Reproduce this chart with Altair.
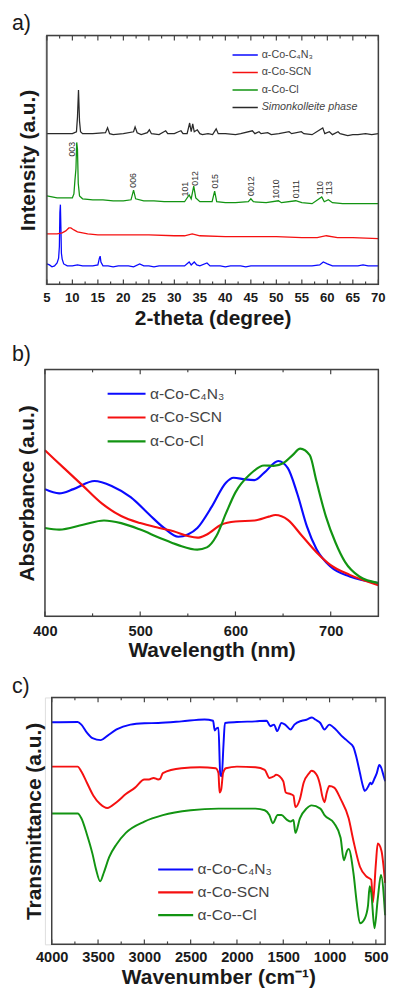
import altair as alt
import pandas as pd

FONT = "Liberation Sans"
TXT = "#1a1a1a"
FRAME = "#404040"

# ---------------- panel a) XRD ----------------
xrd_names = ["α-Co-C₄N₃", "α-Co-SCN", "α-Co-Cl", "Simonkolleite phase"]
xrd_colors = ["#0a0aff", "#f51010", "#129412", "#2a2a2a"]

xrd_blue_x = [5.0, 5.5, 6.0, 6.5, 7.0, 7.3, 7.45, 7.55, 7.65, 7.75, 7.85, 8.0, 8.3, 9, 10, 11, 12, 13, 14, 15.0,
              15.3, 15.45, 15.6, 16, 17, 18, 19, 20, 21, 22, 23.2, 24, 25, 26, 27, 28, 29, 30, 31, 32,
              32.9, 33.3, 33.9, 34.4, 35, 36.4, 37, 38, 39, 40, 41, 42, 43, 44, 45, 46, 47, 48, 49, 50,
              51, 52, 53, 54, 55, 56, 57, 58.5, 59.2, 60, 61, 62, 63, 64, 65, 66, 67, 68, 69, 70]
xrd_blue_y = [21, 20, 18, 19, 22, 27, 39, 74, 82, 59, 32, 26, 21, 19, 19, 20, 19, 19, 19, 20,
              27, 29, 23, 19, 19, 18, 19, 19, 19, 18, 21, 19, 19, 18, 19, 19, 19, 19, 19, 19,
              23, 20, 23, 20, 19, 22, 19, 19, 19, 18, 19, 19, 19, 18, 19, 19, 19, 19, 19, 19,
              19, 19, 19, 19, 19, 19, 19, 20, 23, 21, 19, 19, 19, 19, 19, 19, 20, 19, 19, 19]

xrd_red_x = [5, 6, 7, 8, 8.7, 9.3, 9.7, 10.3, 11, 12, 13, 15, 20, 25, 30, 32, 33.5, 35, 40, 45,
             50, 55, 58, 59.8, 62, 65, 70]
xrd_red_y = [52, 52, 52, 53, 55, 58, 58, 56, 54, 53, 52, 51, 51, 51, 50, 50, 52, 50, 49, 49,
             49, 48, 48, 50, 48, 48, 47]

xrd_green_x = [5, 6, 7, 8, 9, 10, 10.3, 10.5, 10.7, 10.85, 11.0, 11.15, 11.4, 12, 14, 16, 18, 20, 21.5, 22.0,
               22.4, 24, 26, 28, 30, 32, 32.9, 33.3, 33.8, 34.2, 35, 37.4, 37.9, 38.3, 40, 42, 44.5, 45, 45.5, 48,
               50.4, 51, 53.8, 55, 57, 58.9, 59.4, 60.2, 61, 63, 65, 67, 70]
xrd_green_y = [91, 90, 89, 89, 89, 89, 93, 107, 119, 146, 139, 104, 91, 88, 87, 87, 86, 86, 87, 97,
               88, 86, 86, 85, 85, 85, 92, 88, 101, 89, 85, 85, 96, 85, 84, 84, 85, 88, 85, 84,
               86, 84, 86, 84, 83, 90, 85, 87, 84, 83, 83, 83, 83]

xrd_black_x = [5, 8, 10, 10.8, 11.0, 11.2, 11.4, 11.6, 12, 14, 16.5, 16.9, 17.3, 18, 20, 22.0, 22.3, 22.7, 23.5, 24.7,
               25.1, 25.5, 27, 28.3, 28.7, 30, 30.8, 31.3, 31.7, 32.5, 33.0, 33.3, 33.6, 33.9, 34.5, 35.0, 35.5, 36.6,
               37.5, 38.2, 38.6, 40, 42, 43, 45.3, 45.8, 46.6, 47, 48.3, 49, 50.5, 52.5, 53, 54.9, 55.4, 57, 59.1,
               59.5, 60.4, 61, 62.1, 62.5, 64, 65, 66, 67.5, 68.7, 70]
xrd_black_y = [155, 155, 155, 157, 172, 200, 168, 157, 155, 155, 156, 161, 155, 154, 155, 157, 162, 156, 154, 156,
               159, 155, 154, 158, 155, 155, 157, 158, 155, 155, 166, 157, 165, 157, 159, 155, 154, 155,
               154, 160, 155, 155, 154, 155, 158, 155, 157, 155, 156, 154, 155, 157, 155, 157, 155, 154, 161,
               155, 157, 154, 157, 155, 153, 154, 154, 155, 154, 155]

hkl_text = ["003", "006", "101", "012", "015", "0012", "1010", "0111", "110", "113"]
hkl_theta = [10.0, 22.0, 32.1, 34.1, 37.9, 45.1, 50.0, 53.8, 58.6, 60.4]
hkl_y = [139, 107, 98, 109, 106, 101, 98, 98, 99, 99]

xrd_major = [5, 10, 15, 20, 25, 30, 35, 40, 45, 50, 55, 60, 65, 70]
xrd_minor = [7.5, 12.5, 17.5, 22.5, 27.5, 32.5, 37.5, 42.5, 47.5, 52.5, 57.5, 62.5, 67.5]

# ---------------- panel b) UV-vis ----------------
uv_names = ["α-Co-C₄N₃", "α-Co-SCN", "α-Co-Cl"]
uv_colors = ["#0a0aff", "#f51010", "#129412"]

uv_blue_x = [400, 415, 430, 452, 470, 490, 510, 525, 540, 550, 560, 575, 590, 598, 610, 620, 630, 645, 655, 665,
             675, 685, 700, 720, 750]
uv_blue_y = [393, 380, 393, 418, 403, 368, 313, 273, 246, 253, 273, 338, 413, 428, 423, 421, 443, 480, 458, 378,
             278, 208, 153, 123, 103]
uv_green_x = [400, 415, 440, 462, 480, 500, 520, 540, 560, 570, 580, 590, 600, 615, 630, 640, 650, 660, 668, 678,
              685, 695, 705, 715, 730, 750]
uv_green_y = [273, 268, 283, 296, 288, 268, 243, 220, 206, 213, 248, 318, 383, 438, 466, 465, 473, 498, 518, 498,
              418, 308, 228, 168, 123, 103]
uv_red_x = [400, 420, 440, 460, 480, 500, 520, 535, 550, 560, 570, 585, 600, 620, 635, 642, 655, 670, 685, 700,
            720, 750]
uv_red_y = [513, 458, 403, 348, 310, 288, 273, 263, 248, 243, 253, 283, 293, 296, 308, 313, 298, 248, 198, 158,
            128, 96]

uv_major = [400, 500, 600, 700]
uv_minor = [450, 550, 650]

# ---------------- panel c) FTIR ----------------
ir_names = ["α-Co-C₄N₃", "α-Co-SCN", "α-Co--Cl"]
ir_colors = ["#0a0aff", "#f51010", "#129412"]

ir_blue_x = [4000, 3720, 3680, 3620, 3560, 3470, 3400, 3300, 3150, 3000, 2850, 2600, 2350, 2258, 2240, 2223, 2200,
             2180, 2165, 2145, 2130, 2000, 1800, 1680, 1640, 1600, 1565, 1520, 1480, 1420, 1380, 1300, 1250, 1190,
             1150, 1100, 1055, 1003, 960, 916, 870, 829, 790, 742, 707, 672, 640, 620, 600, 580, 560, 545, 520,
             490, 463, 440, 420, 400]
ir_blue_y = [687, 688, 680, 655, 638, 632, 645, 665, 680, 684, 685, 690, 696, 692, 662, 668, 670,
             525, 520, 620, 685, 688, 690, 692, 675, 680, 660, 685, 680, 665, 680, 692, 695, 702,
             695, 685, 665, 680, 672, 660, 645, 635, 625, 610, 575, 530, 490, 475, 480, 490, 500, 495, 510,
             530, 555, 545, 525, 505]
ir_red_x = [4000, 3720, 3680, 3620, 3550, 3480, 3400, 3300, 3200, 3100, 3000, 2950, 2900, 2850, 2830, 2800, 2600,
            2400, 2230, 2200, 2188, 2170, 2150, 2120, 2000, 1800, 1700, 1650, 1600, 1578, 1500, 1473, 1420, 1390,
            1369, 1320, 1280, 1220, 1195, 1140, 1100, 1080, 1055, 1030, 1003, 950, 881, 794, 742, 672, 602, 550,
            532, 500, 480, 440, 400]
ir_red_y = [550, 550, 535, 500, 460, 435, 422, 440, 465, 485, 510, 510, 515, 510, 512, 530, 545,
            548, 545, 530, 470, 480, 530, 545, 550, 548, 540, 515, 520, 525, 505, 470, 465, 460,
            425, 450, 500, 530, 537, 525, 490, 460, 440, 470, 490, 485, 450, 390, 320, 240, 210, 200,
            130, 250, 312, 290, 190]
ir_green_x = [4000, 3720, 3680, 3620, 3560, 3520, 3477, 3440, 3380, 3300, 3200, 3000, 2800, 2500, 2200, 2000, 1800,
              1700, 1650, 1613, 1560, 1520, 1460, 1420, 1390, 1369, 1320, 1250, 1195, 1100, 1055, 951, 881, 846,
              811, 794, 742, 707, 672, 620, 585, 567, 550, 515, 480, 445, 400]
ir_green_y = [405, 405, 390, 340, 280, 230, 195, 220, 270, 310, 345, 380, 400, 415, 420, 420, 420,
              415, 400, 375, 400, 400, 385, 380, 385, 345, 390, 420, 430, 420, 400, 375, 330, 260,
              290, 295, 220, 130, 65, 80, 120, 180, 160, 50, 140, 215, 90]

ir_major = [4000, 3500, 3000, 2500, 2000, 1500, 1000, 500]
ir_minor = [3750, 3250, 2750, 2250, 1750, 1250, 750]


def long_df(names, xs_list, ys_list):
    frames = []
    for n, xs, ys in zip(names, xs_list, ys_list):
        frames.append(pd.DataFrame({"x": xs, "y": ys, "series": n}))
    return pd.concat(frames, ignore_index=True)


def panel(df, names, colors, xdomain, xrange, width, height, ydomain, major, minor,
          xtitle, ytitle, ytitle_pad, lab_pad, lab_size, xtitle_pad, legend, tag, tag_offset,
          interp, stroke_w, extra=None, manual_labels=False):
    xscale = alt.Scale(domain=xdomain, range=xrange, nice=False, zero=False)
    yscale = alt.Scale(domain=ydomain, nice=False, zero=False)
    xaxis = alt.Axis(values=major, title=xtitle, format="d", labels=not manual_labels,
                     labelFont=FONT, labelFontSize=lab_size, labelFontWeight="bold", labelColor=TXT,
                     labelPadding=lab_pad, labelFlush=False, labelOverlap=False, labelSeparation=0,
                     ticks=False, domain=False, grid=False, titleFont=FONT,
                     titleFontSize=21.5, titleFontWeight="bold", titleColor=TXT,
                     titlePadding=xtitle_pad)
    lines = alt.Chart(df).mark_line(strokeWidth=stroke_w, interpolate=interp).encode(
        x=alt.X("x:Q", scale=xscale, axis=xaxis),
        y=alt.Y("y:Q", scale=yscale,
                axis=alt.Axis(title=ytitle, labels=False, ticks=False, domain=False, grid=False,
                              titleFont=FONT, titleFontSize=21.5, titleFontWeight="bold",
                              titleColor=TXT, titlePadding=ytitle_pad)),
        color=alt.Color("series:N", scale=alt.Scale(domain=names, range=colors), legend=legend),
    )
    layers = [lines]
    if extra is not None:
        layers.append(extra(xscale, yscale))
    for vals, ln in ((major, 5), (minor, 3)):
        d = pd.DataFrame({"x": vals})
        base = alt.Chart(d).mark_rule(color=FRAME, strokeWidth=1.2)
        layers.append(base.encode(x=alt.X("x:Q", scale=xscale, axis=xaxis),
                                  y=alt.value(height), y2=alt.value(height - ln)))
        layers.append(base.encode(x=alt.X("x:Q", scale=xscale, axis=xaxis),
                                  y=alt.value(0), y2=alt.value(ln)))
    if manual_labels:
        d = pd.DataFrame({"x": major, "t": [str(v) for v in major]})
        layers.append(alt.Chart(d).mark_text(font=FONT, fontSize=lab_size, fontWeight="bold",
                                             color=TXT, align="center", baseline="top").encode(
            x=alt.X("x:Q", scale=xscale, axis=xaxis), y=alt.value(height + lab_pad), text="t:N"))
    frame = alt.Chart(pd.DataFrame({"x0": [xdomain[0]], "x1": [xdomain[1]]})).mark_rect(
        fillOpacity=0, stroke=FRAME, strokeWidth=1.5).encode(
        x=alt.X("x0:Q", scale=xscale, axis=xaxis), x2="x1:Q", y=alt.value(0), y2=alt.value(height))
    layers.append(frame)
    return alt.layer(*layers).properties(
        width=width, height=height,
        title=alt.TitleParams(tag, anchor="start", frame="group", dx=-34, offset=tag_offset,
                              fontSize=22, fontWeight="normal", font=FONT, color=TXT),
    )


def hkl_layer(xscale, yscale):
    d = pd.DataFrame({"x": hkl_theta, "y": hkl_y, "t": hkl_text})
    return alt.Chart(d).mark_text(angle=270, fontSize=9, font=FONT, color="#333333",
                                  align="center", baseline="middle").encode(
        x=alt.X("x:Q", scale=xscale), y=alt.Y("y:Q", scale=yscale), text="t:N")


leg_a = alt.Legend(orient="none", legendX=192, legendY=14, title=None, direction="vertical",
                   symbolType="stroke", symbolSize=676, symbolStrokeWidth=1.6, clipHeight=12,
                   rowPadding=6, padding=0, labelFont=FONT, labelFontSize=11, labelColor="#444444",
                   labelOffset=3,
                   labelFontStyle=alt.ExprRef(expr="datum.label == 'Simonkolleite phase' ? 'italic' : 'normal'"))
leg_b = alt.Legend(orient="none", legendX=63, legendY=17, title=None, direction="vertical",
                   symbolType="stroke", symbolSize=1521, symbolStrokeWidth=2.2, clipHeight=16,
                   rowPadding=8.5, padding=0, labelFont=FONT, labelFontSize=16, labelColor="#444444",
                   labelOffset=3)
leg_c = alt.Legend(orient="none", legendX=115, legendY=169, title=None, direction="vertical",
                   symbolType="stroke", symbolSize=1296, symbolStrokeWidth=2.2, clipHeight=16,
                   rowPadding=7.5, padding=0, labelFont=FONT, labelFontSize=16, labelColor="#444444",
                   labelOffset=3)

df_a = long_df(xrd_names, [xrd_blue_x, xrd_red_x, xrd_green_x, xrd_black_x],
               [xrd_blue_y, xrd_red_y, xrd_green_y, xrd_black_y])
df_b = long_df(uv_names, [uv_blue_x, uv_red_x, uv_green_x], [uv_blue_y, uv_red_y, uv_green_y])
df_c = long_df(ir_names, [ir_blue_x, ir_red_x, ir_green_x], [ir_blue_y, ir_red_y, ir_green_y])

chart_a = panel(df_a, xrd_names, xrd_colors, [5, 70], [2, 343], 343, 256, [0, 256],
                xrd_major, xrd_minor, "2-theta (degree)", "Intensity (a.u.)", 6, 7, 13.5, 24,
                leg_a, "a)", 0, "linear", 1.3, extra=hkl_layer, manual_labels=True)
chart_b = panel(df_b, uv_names, uv_colors, [400, 750], [0, 343], 343, 254, [0, 763],
                uv_major, uv_minor, "Wavelength (nm)", "Absorbance (a.u.)", 7, 8, 15, 1,
                leg_b, "b)", 3, "monotone", 2.2)
chart_c = panel(df_c, ir_names, ir_colors, [4000, 400], [7, 350], 350, 254, [0, 764],
                ir_major, ir_minor, "Wavenumber (cm⁻¹)", "Transmittance (a.u.)", 0, 6, 15, 2,
                leg_c, "c)", -1, "monotone", 2.0)

chart = alt.vconcat(chart_a, chart_b, chart_c, spacing=13.5).resolve_scale(
    color="independent", x="independent", y="independent"
).resolve_legend(color="independent").properties(
    padding={"left": 3, "top": -11, "right": 0, "bottom": 0}
).configure_view(strokeWidth=0).configure(background="white")

chart.save("out.html", embed_options={"renderer": "svg", "actions": False})
